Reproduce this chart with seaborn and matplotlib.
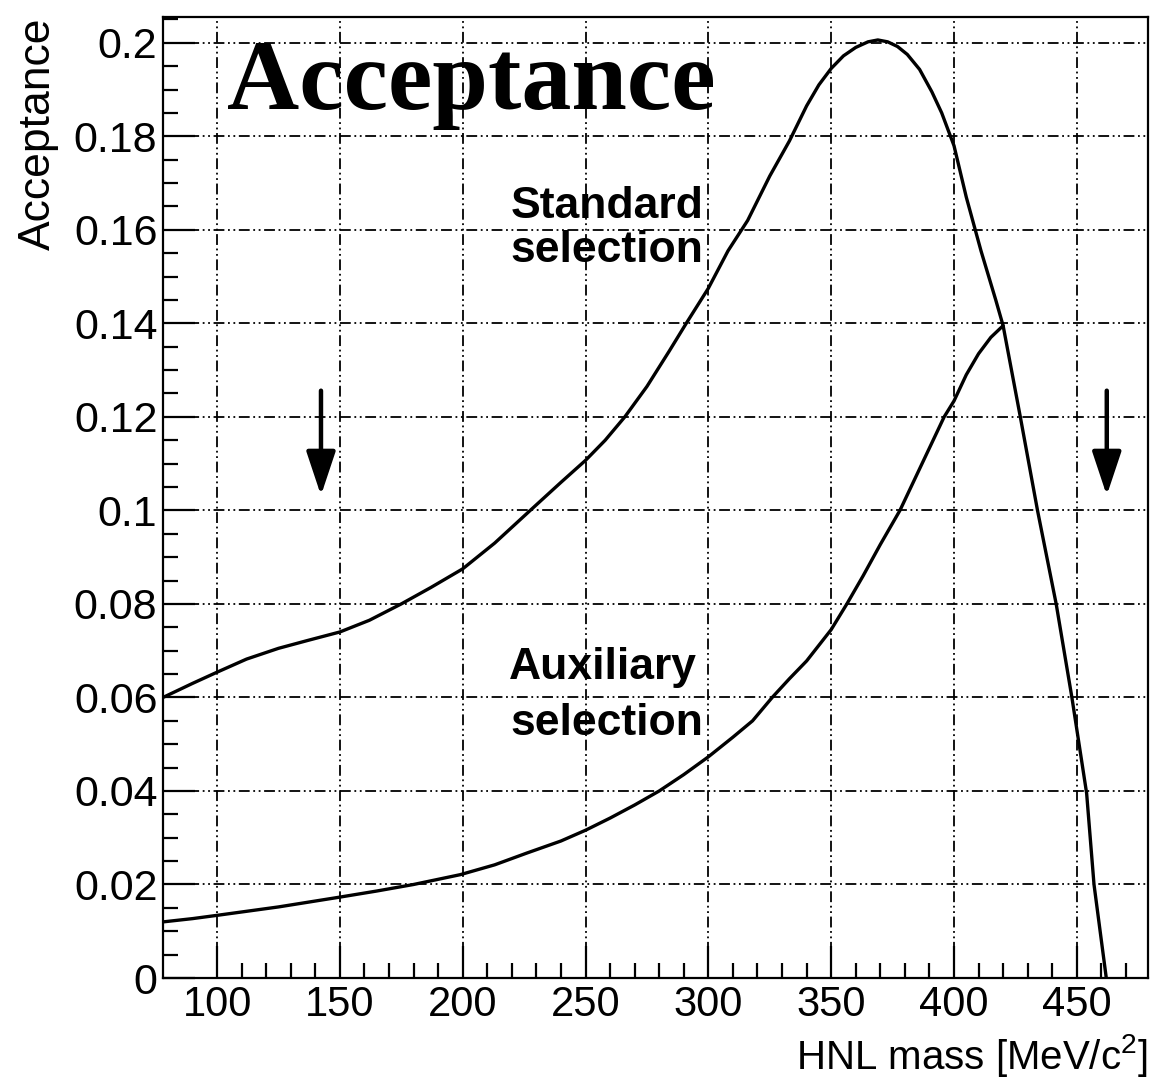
import matplotlib
matplotlib.use("Agg")
import matplotlib.pyplot as plt
from matplotlib.ticker import MultipleLocator, FixedLocator
import seaborn as sns
import pandas as pd

# ---------------- data ----------------
std_mass = [78, 90, 100, 112, 125, 137, 150, 162, 175, 187, 200, 213, 227.5, 240,
            250, 258, 266, 275, 284, 291, 300, 308, 316, 325, 333, 340, 345, 350,
            355, 360, 365, 369, 373, 377, 381, 386, 391, 395, 400, 405, 411, 417,
            420, 427, 434, 441.6, 448, 454, 457, 462]
std_acc = [0.0600, 0.0630, 0.0654, 0.0682, 0.0705, 0.0722, 0.0740, 0.0765, 0.0800,
           0.0835, 0.0875, 0.0930, 0.1000, 0.1060, 0.1107, 0.1150, 0.1200, 0.1265,
           0.1340, 0.1400, 0.1475, 0.1555, 0.1620, 0.1715, 0.1790, 0.1865, 0.1910,
           0.1945, 0.1972, 0.1990, 0.2002, 0.2006, 0.2002, 0.1992, 0.1975, 0.1943,
           0.1895, 0.1850, 0.1780, 0.1670, 0.1555, 0.1450, 0.1395, 0.1200, 0.1000,
           0.0800, 0.0600, 0.0395, 0.0200, 0.0000]

aux_mass = [78, 90, 100, 125, 150, 165, 180, 199, 213, 226, 240, 250, 260, 270, 280,
            290, 300, 310, 318, 326, 333, 340, 350, 356.4, 363, 370, 378, 387, 396,
            400, 405, 410, 415, 420]
aux_acc = [0.0120, 0.0127, 0.0134, 0.0152, 0.0173, 0.0186, 0.0200, 0.0221, 0.0242,
           0.0267, 0.0293, 0.0316, 0.0342, 0.0370, 0.0400, 0.0435, 0.0473, 0.0515,
           0.0550, 0.0600, 0.0640, 0.0678, 0.0745, 0.0800, 0.0860, 0.0927, 0.1000,
           0.1100, 0.1200, 0.1234, 0.1290, 0.1335, 0.1370, 0.1395]

x_ticks = [100, 150, 200, 250, 300, 350, 400, 450]
x_tick_labels = ["100", "150", "200", "250", "300", "350", "400", "450"]
y_ticks = [0, 0.02, 0.04, 0.06, 0.08, 0.10, 0.12, 0.14, 0.16, 0.18, 0.20]
y_tick_labels = ["0", "0.02", "0.04", "0.06", "0.08", "0.1", "0.12", "0.14",
                 "0.16", "0.18", "0.2"]

arrow_mass = [142.3, 462.2]
arrow_top = [0.1256, 0.1256]
arrow_tip = [0.1032, 0.1032]

# ---------------- style ----------------
sns.set_style("white")
plt.rcParams['font.family'] = ['Liberation Sans', 'DejaVu Sans']
plt.rcParams['text.color'] = 'black'
plt.rcParams['axes.labelcolor'] = 'black'
plt.rcParams['mathtext.fontset'] = 'custom'
plt.rcParams['mathtext.rm'] = 'Liberation Sans'
plt.rcParams['mathtext.it'] = 'Liberation Sans'
plt.rcParams['mathtext.bf'] = 'Liberation Sans:bold'
plt.rcParams['mathtext.default'] = 'regular'

df = pd.concat([
    pd.DataFrame({"mass": std_mass, "acc": std_acc, "sel": "Standard"}),
    pd.DataFrame({"mass": aux_mass, "acc": aux_acc, "sel": "Auxiliary"}),
])

fig = plt.figure(figsize=(11.53, 10.79), dpi=100)
ax = fig.add_axes([0.1414, 0.0936, 0.8543, 0.8906])

sns.lineplot(data=df, x="mass", y="acc", units="sel", estimator=None, sort=False,
             color="black", lw=2.4, ax=ax, legend=False, zorder=5)

ax.set_xlim(78, 479)
ax.set_ylim(0, 0.2055)

ax.xaxis.set_major_locator(FixedLocator(x_ticks))
ax.set_xticklabels(x_tick_labels)
ax.xaxis.set_minor_locator(FixedLocator([v for v in range(110, 480, 10) if v % 50]))
ax.yaxis.set_major_locator(FixedLocator(y_ticks))
ax.set_yticklabels(y_tick_labels)
ax.yaxis.set_minor_locator(MultipleLocator(0.005))

ax.tick_params(which="both", direction="in", color="black", width=1.6,
               bottom=True, left=True, top=False, right=False, labelcolor="black")
ax.tick_params(which="major", length=23)
ax.tick_params(which="minor", length=11)
ax.tick_params(axis="y", pad=4, labelsize=31)
ax.tick_params(axis="x", pad=5, labelsize=30)

ax.grid(True, which="major", color="black", lw=1.3,
        linestyle=(0, (6, 2, 1, 2, 1, 2)))
ax.set_axisbelow(True)

for s in ax.spines.values():
    s.set_visible(True)
    s.set_color("black")
    s.set_linewidth(1.6)

ax.set_xlabel("HNL mass [MeV/c$^{2}$]", fontsize=29, loc="right")
ax.xaxis.set_label_coords(1.0, -0.056)
ax.set_ylabel("Acceptance", fontsize=32, loc="top")
ax.yaxis.set_label_coords(-0.106, 1.0)

# annotations
ax.text(104.2, 0.1859, "Acceptance", fontsize=72, fontweight="bold",
        family=["Liberation Serif", "DejaVu Serif"], va="baseline", ha="left", zorder=6)
ax.text(219.4, 0.1626, "Standard", fontsize=32, fontweight="bold", va="baseline", ha="left")
ax.text(219.4, 0.1531, "selection", fontsize=32, fontweight="bold", va="baseline", ha="left")
ax.text(219.0, 0.0640, "Auxiliary", fontsize=32, fontweight="bold", va="baseline", ha="left")
ax.text(219.4, 0.0520, "selection", fontsize=32, fontweight="bold", va="baseline", ha="left")

for xm, yt, yb in zip(arrow_mass, arrow_top, arrow_tip):
    ax.annotate("", xy=(xm, yb), xytext=(xm, yt),
                arrowprops=dict(arrowstyle="-|>,head_length=1.35,head_width=0.45",
                                mutation_scale=20, lw=3.2, color="black",
                                shrinkA=0, shrinkB=0))

fig.savefig("out.png", dpi=100)
